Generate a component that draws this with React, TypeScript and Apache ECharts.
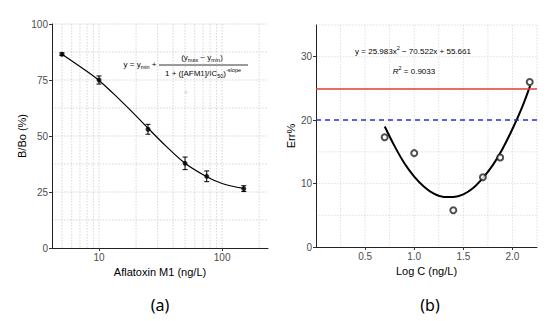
import React, { useEffect, useRef } from 'react';
import * as echarts from 'echarts';

// Panel (a): competitive ELISA calibration
const concentrations = [5, 10, 25, 50, 75, 150];
const bBo = [86.5, 75.0, 53.0, 37.8, 32.0, 26.5];
const bBoErr = [0.6, 1.8, 2.2, 2.8, 2.4, 1.3];
const fitConc = [5, 7, 10, 15, 20, 25, 35, 50, 75, 100, 150];
const fitBBo = [86.5, 81.0, 74.8, 65.8, 59.0, 53.5, 45.5, 37.8, 31.8, 28.8, 26.6];
const xTicksA = [10, 100];
const yTicksA = [0, 25, 50, 75, 100];
const vGridA = [5, 6, 7, 8, 9, 10, 20, 30, 40, 50, 60, 70, 80, 90, 100, 200];
const hGridA = [12.5, 25, 37.5, 50, 62.5, 75, 87.5, 100];

// Panel (b): error vs log concentration
const logC = [0.699, 1.0, 1.398, 1.699, 1.875, 2.176];
const errPct = [17.3, 14.8, 5.8, 11.0, 14.1, 26.0];
const fitLogC = [0.7, 0.8, 0.9, 1.0, 1.1, 1.2, 1.3, 1.4, 1.5, 1.6, 1.7, 1.8, 1.9, 2.0, 2.1, 2.18];
const fitErr = [19.0, 15.9, 13.2, 11.1, 9.5, 8.4, 7.9, 7.9, 8.3, 9.3, 10.9, 12.9, 15.5, 18.6, 22.1, 25.4];
const xTicksB = [0.5, 1.0, 1.5, 2.0];
const yTicksB = [0, 10, 20, 30];
const vGridB = [0.25, 0.5, 0.75, 1.0, 1.25, 1.5, 1.75, 2.0, 2.25];
const hGridB = [5, 10, 15, 20, 25, 30, 35];
const limitRed = 25;
const limitBlue = 20;

const FONT = '"Liberation Sans", Arial, sans-serif';

export default function App() {
  const ref = useRef<HTMLDivElement>(null);
  useEffect(() => {
    if (!ref.current) return;
    const chart = echarts.init(ref.current, null, { renderer: 'svg' });

    const gridColor = '#c4c4c4';
    const vLine = (color: string) => (params: any, api: any) => {
      const cs = params.coordSys;
      const p = api.coord([api.value(0), api.value(1)]);
      return {
        type: 'line',
        shape: { x1: p[0], y1: cs.y, x2: p[0], y2: cs.y + cs.height },
        style: { stroke: color, lineWidth: 0.7, lineDash: [1.5, 1.5] },
        silent: true,
      };
    };
    const hLine = (color: string) => (params: any, api: any) => {
      const cs = params.coordSys;
      const p = api.coord([api.value(0), api.value(1)]);
      return {
        type: 'line',
        shape: { x1: cs.x, y1: p[1], x2: cs.x + cs.width, y2: p[1] },
        style: { stroke: color, lineWidth: 0.7, lineDash: [1.5, 1.5] },
        silent: true,
      };
    };

    const axisCommon = {
      axisLine: { show: true, lineStyle: { color: '#222', width: 1 } },
      axisTick: { show: true, length: 3, lineStyle: { color: '#333' } },
      splitLine: { show: false },
      axisLabel: { color: '#4d4d4d', fontSize: 10, fontFamily: FONT },
      nameTextStyle: { color: '#000', fontSize: 11, fontFamily: FONT },
      nameLocation: 'middle' as const,
    };

    const rich = {
      n: { fontSize: 8, fontFamily: FONT, color: '#000', lineHeight: 12 },
      i: { fontSize: 8, fontFamily: FONT, color: '#000', lineHeight: 12, fontStyle: 'italic' },
      sub: { fontSize: 5.5, fontFamily: FONT, color: '#000', verticalAlign: 'bottom', lineHeight: 6 },
      sup: { fontSize: 5.5, fontFamily: FONT, color: '#000', verticalAlign: 'top', lineHeight: 6 },
    };
    const txt = (x: number, y: number, text: string, align = 'center') => ({
      type: 'text',
      x,
      y,
      style: { text, rich, align, textAlign: align, verticalAlign: 'middle', textVerticalAlign: 'middle', fill: '#000', font: `8px ${FONT}` },
    });

    const option: any = {
      animation: false,
      backgroundColor: '#fff',
      grid: [
        { left: 52, top: 24, width: 216, height: 224 },
        { left: 316, top: 25, width: 221, height: 222 },
      ],
      xAxis: [
        {
          ...axisCommon,
          type: 'value',
          gridIndex: 0,
          min: Math.log10(4.15),
          max: Math.log10(236),
          name: 'Aflatoxin M1 (ng/L)',
          nameGap: 15,
          axisTick: { ...axisCommon.axisTick, customValues: xTicksA.map(Math.log10) },
          axisLabel: {
            ...axisCommon.axisLabel,
            margin: 4,
            customValues: xTicksA.map(Math.log10),
            formatter: (v: number) => String(Math.round(Math.pow(10, v))),
          },
        },
        {
          ...axisCommon,
          type: 'value',
          gridIndex: 1,
          min: 0,
          max: 2.25,
          name: 'Log C (ng/L)',
          nameGap: 15,
          axisTick: { ...axisCommon.axisTick, customValues: xTicksB },
          axisLabel: {
            ...axisCommon.axisLabel,
            margin: 4,
            customValues: xTicksB,
            formatter: (v: number) => v.toFixed(1),
          },
        },
      ],
      yAxis: [
        {
          ...axisCommon,
          type: 'value',
          gridIndex: 0,
          min: 0,
          max: 100,
          name: 'B/Bo (%)',
          nameGap: 20,
          axisTick: { ...axisCommon.axisTick, customValues: yTicksA },
          axisLabel: { ...axisCommon.axisLabel, margin: 4, customValues: yTicksA },
        },
        {
          ...axisCommon,
          type: 'value',
          gridIndex: 1,
          min: 0,
          max: 35,
          name: 'Err%',
          nameGap: 18,
          axisTick: { ...axisCommon.axisTick, customValues: yTicksB },
          axisLabel: { ...axisCommon.axisLabel, margin: 4, customValues: yTicksB },
        },
      ],
      series: [
        // panel (a) grid
        { type: 'custom', xAxisIndex: 0, yAxisIndex: 0, z: 0, silent: true, data: vGridA.map((v) => [Math.log10(v), 0]), renderItem: vLine(gridColor), clip: false },
        { type: 'custom', xAxisIndex: 0, yAxisIndex: 0, z: 0, silent: true, data: hGridA.map((v) => [1, v]), renderItem: hLine(gridColor), clip: false },
        // panel (a) fit curve
        {
          type: 'line', xAxisIndex: 0, yAxisIndex: 0, z: 3,
          data: fitConc.map((c, i) => [Math.log10(c), fitBBo[i]]),
          smooth: 0.35, showSymbol: false, symbol: 'none',
          lineStyle: { color: '#000', width: 1.2 },
        },
        // panel (a) error bars
        {
          type: 'custom', xAxisIndex: 0, yAxisIndex: 0, z: 4,
          data: concentrations.map((c, i) => [Math.log10(c), bBo[i] - bBoErr[i], bBo[i] + bBoErr[i]]),
          encode: { x: 0, y: [1, 2] },
          renderItem: (params: any, api: any) => {
            const lo = api.coord([api.value(0), api.value(1)]);
            const hi = api.coord([api.value(0), api.value(2)]);
            const w = 2.5;
            const st = { stroke: '#000', lineWidth: 1 };
            return {
              type: 'group',
              children: [
                { type: 'line', shape: { x1: lo[0], y1: lo[1], x2: hi[0], y2: hi[1] }, style: st },
                { type: 'line', shape: { x1: lo[0] - w, y1: lo[1], x2: lo[0] + w, y2: lo[1] }, style: st },
                { type: 'line', shape: { x1: hi[0] - w, y1: hi[1], x2: hi[0] + w, y2: hi[1] }, style: st },
              ],
            };
          },
        },
        // panel (a) points
        {
          type: 'scatter', xAxisIndex: 0, yAxisIndex: 0, z: 5,
          data: concentrations.map((c, i) => [Math.log10(c), bBo[i]]),
          symbol: 'circle', symbolSize: 5,
          itemStyle: { color: '#000' },
        },
        // panel (b) grid
        { type: 'custom', xAxisIndex: 1, yAxisIndex: 1, z: 0, silent: true, data: vGridB.map((v) => [v, 0]), renderItem: vLine('#d2d2d2'), clip: false },
        { type: 'custom', xAxisIndex: 1, yAxisIndex: 1, z: 0, silent: true, data: hGridB.map((v) => [1, v]), renderItem: hLine('#d2d2d2'), clip: false },
        // panel (b) fit curve
        {
          type: 'line', xAxisIndex: 1, yAxisIndex: 1, z: 3,
          data: fitLogC.map((x, i) => [x, fitErr[i]]),
          smooth: 0.35, showSymbol: false, symbol: 'none',
          lineStyle: { color: '#000', width: 2 },
        },
        // panel (b) points + limit lines
        {
          type: 'scatter', xAxisIndex: 1, yAxisIndex: 1, z: 5,
          data: logC.map((x, i) => [x, errPct[i]]),
          symbol: 'emptyCircle', symbolSize: 6,
          itemStyle: { color: '#222', borderWidth: 0.8 },
          markLine: {
            silent: true,
            symbol: 'none',
            label: { show: false },
            animation: false,
            data: [
              { yAxis: limitRed, lineStyle: { color: '#e0403a', width: 1.5, type: 'solid' } },
              { yAxis: limitBlue, lineStyle: { color: '#3030c8', width: 1.5, type: [5, 4] } },
            ],
          },
        },
      ],
      graphic: [
        txt(140, 64, '{n|y = y}{sub|min}{n| +}'),
        txt(202, 57, '{n|(y}{sub|max}{n| − y}{sub|min}{n|)}'),
        { type: 'line', shape: { x1: 159, y1: 65, x2: 248, y2: 65 }, style: { stroke: '#000', lineWidth: 0.8 } },
        txt(203, 73, '{n|1 + ([AFM1]/IC}{sub|50}{n|)}{sup|-slope}'),
        { type: 'text', x: 186, y: 92, style: { text: '+', fill: '#c8c8c8', font: `7px ${FONT}`, align: 'center', textAlign: 'center', verticalAlign: 'middle', textVerticalAlign: 'middle' } },
        txt(413, 51, '{n|y = 25.983x}{sup|2}{n| − 70.522x + 55.661}'),
        txt(414, 71, '{i|R}{sup|2}{n| = 0.9033}'),
        { type: 'text', x: 160, y: 305, style: { text: '(a)', fill: '#000', font: `16px "Noto Sans", "Open Sans", sans-serif`, align: 'center', textAlign: 'center', verticalAlign: 'middle', textVerticalAlign: 'middle' } },
        { type: 'text', x: 430, y: 305, style: { text: '(b)', fill: '#000', font: `16px "Noto Sans", "Open Sans", sans-serif`, align: 'center', textAlign: 'center', verticalAlign: 'middle', textVerticalAlign: 'middle' } },
      ],
    };
    chart.setOption(option);
    return () => chart.dispose();
  }, []);
  return <div ref={ref} style={{ position: 'fixed', left: 0, top: 0, width: 550, height: 321 }} />;
}
